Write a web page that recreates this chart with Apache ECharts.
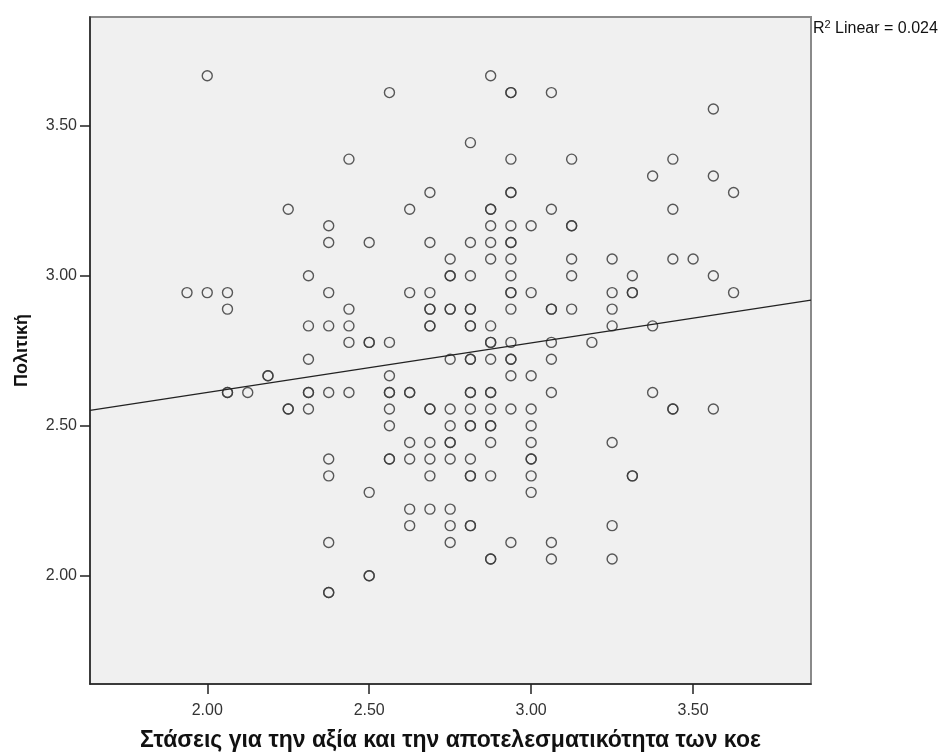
<!DOCTYPE html>
<html>
<head>
<meta charset="utf-8">
<script src="https://cdn.jsdelivr.net/npm/echarts@6/dist/echarts.min.js"></script>
<style>
  html, body { margin: 0; padding: 0; background: #fff; }
  #chart { width: 942px; height: 752px; }
</style>
</head>
<body>
<div id="chart"></div>
<script>
// [στάσεις, πολιτική] - overlapping cases are listed twice
var points = [
    [2.0, 3.667], [2.875, 3.667],
    [2.5625, 3.611], [2.9375, 3.611], [2.9375, 3.611], [3.0625, 3.611],
    [3.5625, 3.556],
    [2.8125, 3.444],
    [2.4375, 3.389], [2.9375, 3.389], [3.125, 3.389], [3.4375, 3.389],
    [3.375, 3.333], [3.5625, 3.333],
    [2.6875, 3.278], [2.9375, 3.278], [2.9375, 3.278], [3.625, 3.278],
    [2.25, 3.222], [2.625, 3.222], [2.875, 3.222], [2.875, 3.222], [3.0625, 3.222], [3.4375, 3.222],
    [2.375, 3.167], [2.875, 3.167], [2.9375, 3.167], [3.0, 3.167], [3.125, 3.167], [3.125, 3.167],
    [2.375, 3.111], [2.5, 3.111], [2.6875, 3.111], [2.8125, 3.111], [2.875, 3.111], [2.9375, 3.111], [2.9375, 3.111],
    [2.75, 3.056], [2.875, 3.056], [2.9375, 3.056], [3.125, 3.056], [3.25, 3.056], [3.4375, 3.056], [3.5, 3.056],
    [2.3125, 3.0], [2.75, 3.0], [2.75, 3.0], [2.8125, 3.0], [2.9375, 3.0], [3.125, 3.0], [3.3125, 3.0], [3.5625, 3.0],
    [1.9375, 2.944], [2.0, 2.944], [2.0625, 2.944], [2.375, 2.944], [2.625, 2.944], [2.6875, 2.944],
    [2.9375, 2.944], [2.9375, 2.944], [3.0, 2.944], [3.25, 2.944], [3.3125, 2.944], [3.3125, 2.944], [3.625, 2.944],
    [2.0625, 2.889], [2.4375, 2.889], [2.6875, 2.889], [2.6875, 2.889], [2.75, 2.889], [2.75, 2.889],
    [2.8125, 2.889], [2.8125, 2.889], [2.9375, 2.889], [3.0625, 2.889], [3.0625, 2.889], [3.125, 2.889], [3.25, 2.889],
    [2.3125, 2.833], [2.375, 2.833], [2.4375, 2.833], [2.6875, 2.833], [2.6875, 2.833],
    [2.8125, 2.833], [2.8125, 2.833], [2.875, 2.833], [3.25, 2.833], [3.375, 2.833],
    [2.4375, 2.778], [2.5, 2.778], [2.5, 2.778], [2.5625, 2.778], [2.875, 2.778], [2.875, 2.778],
    [2.9375, 2.778], [3.0625, 2.778], [3.1875, 2.778],
    [2.3125, 2.722], [2.75, 2.722], [2.8125, 2.722], [2.8125, 2.722], [2.875, 2.722],
    [2.9375, 2.722], [2.9375, 2.722], [3.0625, 2.722],
    [2.1875, 2.667], [2.1875, 2.667], [2.5625, 2.667], [2.9375, 2.667], [3.0, 2.667],
    [2.0625, 2.611], [2.0625, 2.611], [2.125, 2.611], [2.3125, 2.611], [2.3125, 2.611], [2.375, 2.611],
    [2.4375, 2.611], [2.5625, 2.611], [2.5625, 2.611], [2.625, 2.611], [2.625, 2.611],
    [2.8125, 2.611], [2.8125, 2.611], [2.875, 2.611], [2.875, 2.611], [3.0625, 2.611], [3.375, 2.611],
    [2.25, 2.556], [2.25, 2.556], [2.3125, 2.556], [2.5625, 2.556], [2.6875, 2.556], [2.6875, 2.556],
    [2.75, 2.556], [2.8125, 2.556], [2.875, 2.556], [2.9375, 2.556], [3.0, 2.556],
    [3.4375, 2.556], [3.4375, 2.556], [3.5625, 2.556],
    [2.5625, 2.5], [2.75, 2.5], [2.8125, 2.5], [2.8125, 2.5], [2.875, 2.5], [2.875, 2.5], [3.0, 2.5],
    [2.625, 2.444], [2.6875, 2.444], [2.75, 2.444], [2.75, 2.444], [2.875, 2.444], [3.0, 2.444], [3.25, 2.444],
    [2.375, 2.389], [2.5625, 2.389], [2.5625, 2.389], [2.625, 2.389], [2.6875, 2.389],
    [2.75, 2.389], [2.8125, 2.389], [3.0, 2.389], [3.0, 2.389],
    [2.375, 2.333], [2.6875, 2.333], [2.8125, 2.333], [2.8125, 2.333], [2.875, 2.333],
    [3.0, 2.333], [3.3125, 2.333], [3.3125, 2.333],
    [2.5, 2.278], [3.0, 2.278],
    [2.625, 2.222], [2.6875, 2.222], [2.75, 2.222],
    [2.625, 2.167], [2.75, 2.167], [2.8125, 2.167], [2.8125, 2.167], [3.25, 2.167],
    [2.375, 2.111], [2.75, 2.111], [2.9375, 2.111], [3.0625, 2.111],
    [2.875, 2.056], [2.875, 2.056], [3.0625, 2.056], [3.25, 2.056],
    [2.5, 2.0], [2.5, 2.0],
    [2.375, 1.944], [2.375, 1.944]
];

// fit line ends, read at the plot edges
var fitLine = [[1.638, 2.551], [3.864, 2.919]];

var tickValues = [2.0, 2.5, 3.0, 3.5];
var axisRange = { xmin: 1.638, xmax: 3.864, ymin: 1.639, ymax: 3.863 };

var chart = echarts.init(document.getElementById('chart'));

var font = 'Liberation Sans, Arial, sans-serif';
var labelStyle = {
    color: '#333',
    fontFamily: font,
    fontSize: 16
};

var option = {
    animation: false,
    backgroundColor: '#fff',
    grid: {
        left: 90,
        right: 131,
        top: 17,
        bottom: 68,
        outerBoundsMode: 'none',
        show: true,
        backgroundColor: '#f0f0f0',
        borderColor: '#8a8a8a',
        borderWidth: 2
    },
    xAxis: {
        type: 'value',
        min: axisRange.xmin,
        max: axisRange.xmax,
        name: 'Στάσεις για την αξία και την αποτελεσματικότητα των κοε',
        nameLocation: 'middle',
        nameGap: 45,
        nameTextStyle: {
            color: '#111',
            fontFamily: font,
            fontWeight: 'bold',
            fontSize: 23
        },
        splitLine: { show: false },
        axisLine: { show: true, lineStyle: { color: '#222', width: 1.5 } },
        axisTick: { show: true, inside: false, length: 10, customValues: tickValues, lineStyle: { color: '#222', width: 1.5 } },
        axisLabel: Object.assign({
            customValues: tickValues,
            margin: 19,
            formatter: function (v) { return v.toFixed(2); }
        }, labelStyle)
    },
    yAxis: {
        type: 'value',
        min: axisRange.ymin,
        max: axisRange.ymax,
        name: 'Πολιτική',
        nameLocation: 'middle',
        nameGap: 59,
        nameTextStyle: {
            color: '#111',
            fontFamily: font,
            fontWeight: 'bold',
            fontSize: 18
        },
        splitLine: { show: false },
        axisLine: { show: true, lineStyle: { color: '#222', width: 1.5 } },
        axisTick: { show: true, inside: false, length: 10, customValues: tickValues, lineStyle: { color: '#222', width: 1.5 } },
        axisLabel: Object.assign({
            customValues: tickValues,
            margin: 13,
            formatter: function (v) { return v.toFixed(2); }
        }, labelStyle)
    },
    series: [
        {
            type: 'scatter',
            data: points,
            symbol: 'circle',
            symbolSize: 10,
            itemStyle: {
                color: 'rgba(0,0,0,0)',
                borderColor: '#3c3c3c',
                borderWidth: 1.4,
                opacity: 0.85
            },
            z: 3
        },
        {
            type: 'line',
            data: fitLine,
            symbol: 'none',
            lineStyle: { color: '#222', width: 1.3 },
            z: 4
        }
    ],
    graphic: [
        {
            type: 'text',
            left: 813,
            top: 19,
            style: {
                text: '{r|R}{s|2}{r| Linear = 0.024}',
                rich: {
                    r: { fontSize: 16, fontFamily: font, fill: '#111', lineHeight: 20 },
                    s: { fontSize: 11, fontFamily: font, fill: '#111', lineHeight: 20, padding: [0, 0, 8, 0] }
                }
            }
        }
    ]
};

chart.setOption(option);
</script>
</body>
</html>
